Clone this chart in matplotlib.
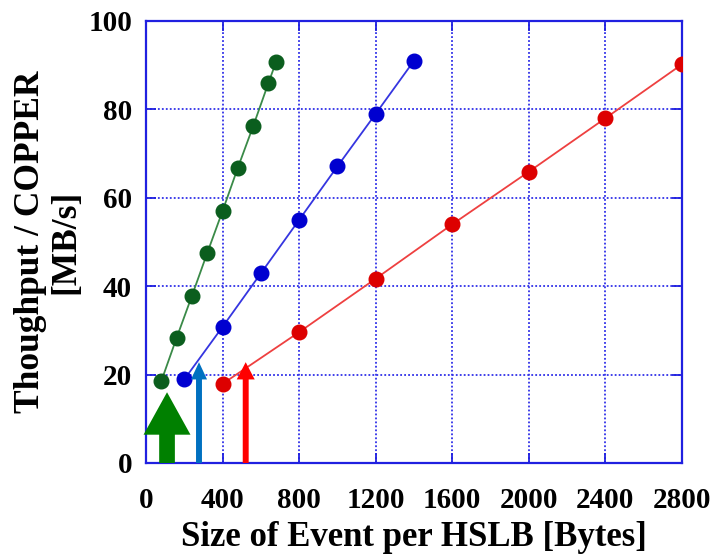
import matplotlib
matplotlib.use("Agg")
import matplotlib.pyplot as plt
from matplotlib.patches import FancyArrow

# Measured throughput per COPPER versus event size per HSLB
green_size = [80, 160, 240, 320, 400, 480, 560, 640, 680]
green_rate = [18.5, 28.3, 37.8, 47.5, 57.0, 66.8, 76.2, 86.0, 90.8]

blue_size = [200, 400, 600, 800, 1000, 1200, 1400]
blue_rate = [18.9, 30.8, 42.9, 55.0, 67.1, 79.0, 91.0]

red_size = [400, 800, 1200, 1600, 2000, 2400, 2800]
red_rate = [17.9, 29.6, 41.7, 54.0, 65.9, 78.0, 90.2]

x_ticks = [0, 400, 800, 1200, 1600, 2000, 2400, 2800]
y_ticks = [0, 20, 40, 60, 80, 100]

plt.rcParams["font.family"] = ["Liberation Serif", "DejaVu Serif"]
plt.rcParams["font.weight"] = "bold"

fig = plt.figure(figsize=(7.11, 5.55), dpi=100)
ax = fig.add_axes([0.2053, 0.1658, 0.7539, 0.7964])

axis_blue = "#2020E0"
ax.set_xlim(0, 2800)
ax.set_ylim(0, 100)
ax.set_xticks(x_ticks)
ax.set_yticks(y_ticks)
ax.grid(True, color="#3030E8", linestyle=(0, (1, 1.2)), linewidth=1.3)
ax.set_axisbelow(True)
for sp in ax.spines.values():
    sp.set_color(axis_blue)
    sp.set_linewidth(1.6)
ax.tick_params(axis="both", direction="in", length=7, width=1.3, color=axis_blue,
               top=True, right=True, labelsize=21)
ax.tick_params(axis="x", pad=17)
ax.tick_params(axis="y", pad=10)
for lab in ax.get_xticklabels() + ax.get_yticklabels():
    lab.set_fontweight("bold")

ax.plot(green_size, green_rate, "-", color="#3A8A48", linewidth=1.3, zorder=3)
ax.plot(green_size, green_rate, "o", color="#0B5E1E", markersize=10.5, zorder=4)
ax.plot(blue_size, blue_rate, "-", color="#3535E0", linewidth=1.3, zorder=3)
ax.plot(blue_size, blue_rate, "o", color="#0000D0", markersize=10.5, zorder=4)
ax.plot(red_size, red_rate, "-", color="#EE4040", linewidth=1.3, zorder=3)
ax.plot(red_size, red_rate, "o", color="#DD0000", markersize=10.5, zorder=4)

# Vertical arrows marking the minimum event sizes
arrows = [
    (110, 16.0, 9.6, 245, 82, "#008000"),
    (277, 22.8, 3.9, 84, 31, "#0070C0"),
    (521, 22.8, 3.9, 94, 31, "#FF0000"),
]
for x, tip, head_len, head_w, shaft_w, col in arrows:
    ax.add_patch(FancyArrow(x, 0, 0, tip, width=shaft_w, head_width=head_w,
                            head_length=head_len, length_includes_head=True,
                            color=col, linewidth=0, zorder=5, clip_on=False))

ax.set_xlabel("Size of Event per HSLB [Bytes]", fontsize=25, fontweight="bold", labelpad=5)
ax.set_ylabel("Thoughput / COPPER\n[MB/s]", fontsize=25.5, fontweight="bold",
              labelpad=4, linespacing=1.1)

fig.savefig("out.png", dpi=100)
